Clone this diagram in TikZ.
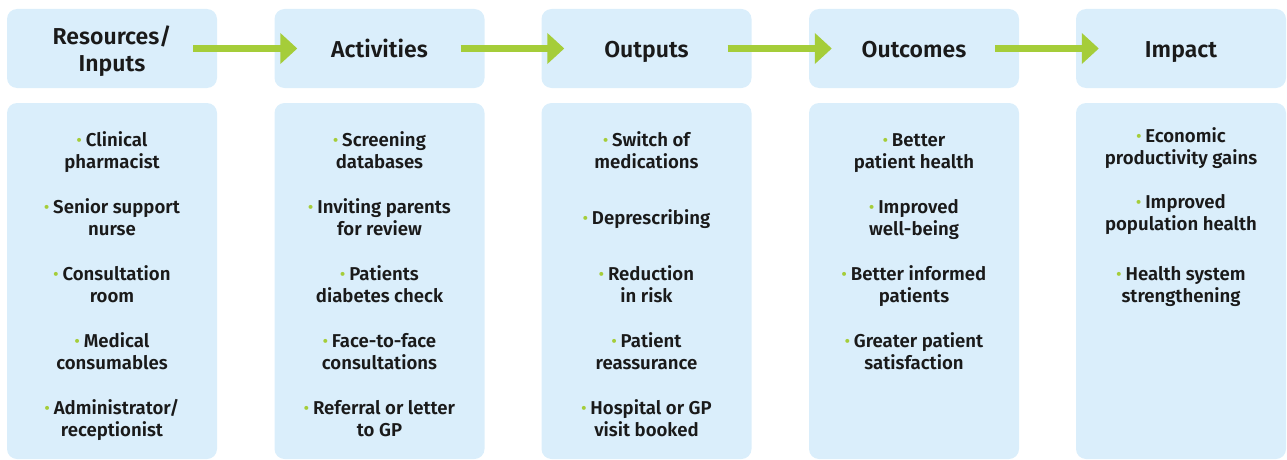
\documentclass[tikz,border=0pt]{standalone}
\usepackage{fontspec}
\setmainfont{Fira Sans}[BoldFont={Fira Sans SemiBold}]
\usetikzlibrary{arrows.meta}
\definecolor{boxblue}{HTML}{DAEEFB}
\definecolor{lime}{HTML}{A5CD39}
\definecolor{ink}{HTML}{1A1A1A}
\newcommand{\bul}{{\color{lime}\fontsize{15}{15}\selectfont\raisebox{0.1ex}{•}}\hspace{4pt}}
\begin{document}
\begin{tikzpicture}[x=1pt,y=-1pt,
  headbox/.style={fill=boxblue, rounded corners=10pt, minimum width=210pt, minimum height=79pt, inner sep=0pt},
  headtext/.style={anchor=base, inner sep=0pt, text=ink, font=\bfseries\fontsize{23}{27}\selectfont, align=center},
  panel/.style={fill=boxblue, rounded corners=10pt, minimum width=210pt, minimum height=356pt, inner sep=0pt},
  item/.style={anchor=base, align=center, font=\bfseries\fontsize{18.6}{22}\selectfont, text=ink, inner sep=0pt},
  flow/.style={draw=lime, line width=7pt, -{Triangle[length=17pt,width=30pt,fill=lime]}}]
\useasboundingbox (0,0) rectangle (1287,460);

% header boxes
\node[headbox] (h1) at (112,48.5) {};
\node[headbox] (h2) at (379.5,48.5) {};
\node[headbox] (h3) at (646.5,48.5) {};
\node[headbox] (h4) at (914,48.5) {};
\node[headbox] (h5) at (1181,48.5) {};
% (base anchor = baseline of last line)
\node[headtext] (t1) at (112,71) {Resources/\\Inputs};
\node[headtext] (t2) at (379.5,57.5) {Activities};
\node[headtext] (t3) at (646.5,57.5) {Outputs};
\node[headtext] (t4) at (914,57.5) {Outcomes};
\node[headtext] (t5) at (1181,57.5) {Impact};

% panels
\node[panel] (p1) at (112,281) {};
\node[panel] (p2) at (379.5,281) {};
\node[panel] (p3) at (646.5,281) {};
\node[panel] (p4) at (914,281) {};
\node[panel] (p5) at (1181,281) {};

% arrows
\draw[flow] ([xshift=-24pt]h1.east) -- ([xshift=23pt]h2.west);
\draw[flow] ([xshift=-24pt]h2.east) -- ([xshift=23pt]h3.west);
\draw[flow] ([xshift=-24pt]h3.east) -- ([xshift=23pt]h4.west);
\draw[flow] ([xshift=-24pt]h4.east) -- ([xshift=23pt]h5.west);

% column 1
\node[item] (a1) at (112,168) {\bul Clinical\\pharmacist};
\node[item] (a2) at (112,235) {\bul Senior support\\nurse};
\node[item] (a3) at (112,302) {\bul Consultation\\room};
\node[item] (a4) at (112,369) {\bul Medical\\consumables};
\node[item] (a5) at (112,436) {\bul Administrator/\\receptionist};

% column 2
\node[item] (b1) at (379.5,168) {\bul Screening\\databases};
\node[item] (b2) at (379.5,235) {\bul Inviting parents\\for review};
\node[item] (b3) at (379.5,302) {\bul Patients\\diabetes check};
\node[item] (b4) at (379.5,369) {\bul Face-to-face\\consultations};
\node[item] (b5) at (379.5,436) {\bul Referral or letter\\to GP};

% column 3
\node[item] (c1) at (646.5,168) {\bul Switch of\\medications};
\node[item] (c2) at (646.5,224) {\bul Deprescribing};
\node[item] (c3) at (646.5,302) {\bul Reduction\\in risk};
\node[item] (c4) at (646.5,369) {\bul Patient\\reassurance};
\node[item] (c5) at (646.5,436) {\bul Hospital or GP\\visit booked};

% column 4
\node[item] (d1) at (914,168) {\bul Better\\patient health};
\node[item] (d2) at (914,235) {\bul Improved\\well-being};
\node[item] (d3) at (914,302) {\bul Better informed\\patients};
\node[item] (d4) at (914,369) {\bul Greater patient\\satisfaction};

% column 5
\node[item] (e1) at (1181,164) {\bul Economic\\productivity gains};
\node[item] (e2) at (1181,230) {\bul Improved\\population health};
\node[item] (e3) at (1181,302) {\bul Health system\\strengthening};
\end{tikzpicture}
\end{document}
